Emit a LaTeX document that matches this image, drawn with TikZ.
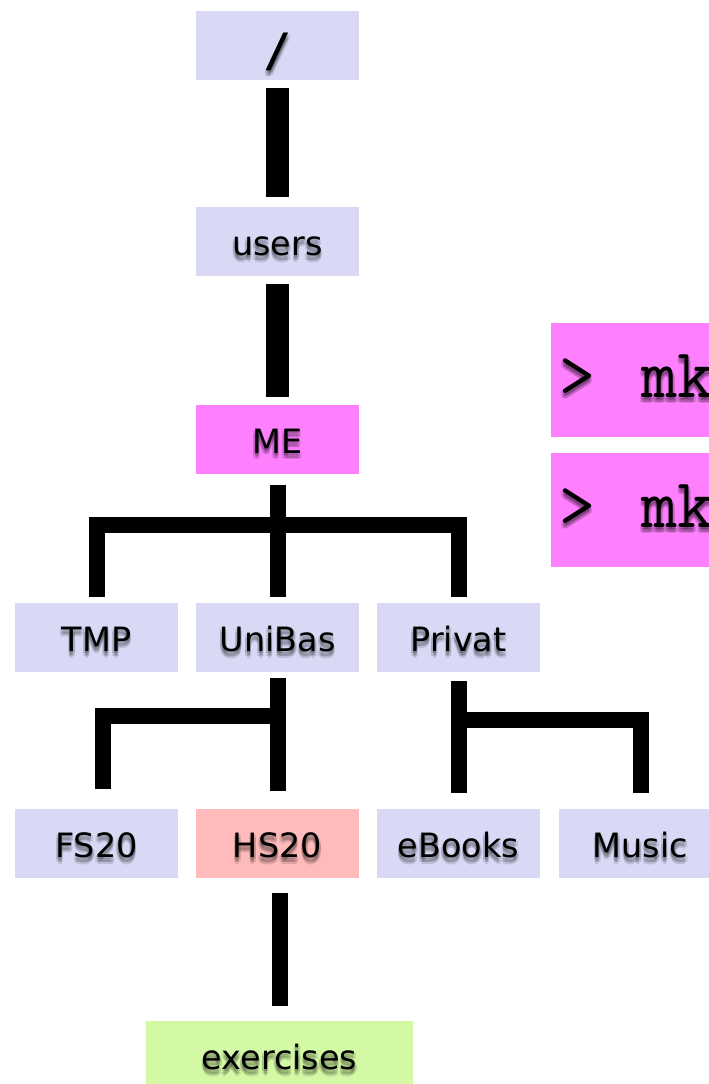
\documentclass[tikz,border=0pt]{standalone}
\usepackage{fontspec}
\setmainfont{DejaVu Sans}
\newfontfamily\slashfont{DejaVu Sans Mono}
\usetikzlibrary{calc}

\definecolor{lav}{RGB}{217,217,246}
\definecolor{pinkbox}{RGB}{255,128,255}
\definecolor{salmon}{RGB}{255,187,187}
\definecolor{lime}{RGB}{211,249,165}

\newcommand\cmdfont{\ttfamily\addfontfeatures{FakeBold=1.6}\fontsize{70}{76}\selectfont}

\tikzset{
  box/.style={fill=lav, minimum width=163pt, minimum height=69pt, inner sep=0pt,
    font=\fontsize{33.5}{40}\selectfont, text height=28pt, text depth=0pt},
  cmdbox/.style={fill=pinkbox, minimum height=114pt, minimum width=400pt,
    inner xsep=8pt, inner ysep=0pt, text width=384pt, align=left,
    font=\cmdfont, text height=44pt, text depth=10pt},
  conn/.style={line width=16pt, line cap=butt, line join=miter},
  trunk/.style={conn, line width=23pt},
}

% soft drop shadow: faint copies of a label, stacked slightly below it
\newcommand\textshadow[3]{%
  \foreach \sx/\sy in {-1.5/-2,1.5/-2,-1.5/-5,1.5/-5,0/-3.5,0/-6.5}
    \node[#2, fill=none, anchor=center, text opacity=0.12]
      at ([xshift=\sx pt,yshift=\sy pt]#1.center) {#3};%
}

\begin{document}
\begin{tikzpicture}[x=1pt,y=-1pt]
\useasboundingbox (0,0) rectangle (709,1084);
\clip (0,0) rectangle (709,1084);

% directory boxes
\node[box, font=\slashfont\bfseries\fontsize{46}{50}\selectfont, text height=41pt] (root) at (277.5,45.5) {/};
\node[box] (users) at (277.5,241.5) {users};
\node[box, fill=pinkbox] (me) at (277.5,439) {ME};
\node[box] (tmp) at (96.5,637.5) {TMP};
\node[box] (unibas) at (277.5,637.5) {UniBas};
\node[box] (privat) at (458.5,637.5) {Privat};
\node[box] (fs20) at (96.5,843.5) {FS20};
\node[box, fill=salmon] (hs20) at (277.5,843.5) {HS20};
\node[box] (ebooks) at (458.5,843.5) {eBooks};
\node[box] (music) at (640.5,843.5) {Music};
\node[box, fill=lime, minimum width=267pt] (exercises) at (279.5,1055.5) {exercises};

% command boxes
\node[cmdbox, anchor=west] (cmd1) at (551,380) {>\ \ mk};
\node[cmdbox, anchor=west] (cmd2) at (551,510) {>\ \ mk};

% shadows under the labels
\textshadow{root}{box, font=\slashfont\bfseries\fontsize{46}{50}\selectfont, text height=41pt}{/}
\textshadow{users}{box}{users}
\textshadow{me}{box}{ME}
\textshadow{tmp}{box}{TMP}
\textshadow{unibas}{box}{UniBas}
\textshadow{privat}{box}{Privat}
\textshadow{fs20}{box}{FS20}
\textshadow{hs20}{box}{HS20}
\textshadow{ebooks}{box}{eBooks}
\textshadow{music}{box}{Music}
\textshadow{exercises}{box, minimum width=267pt}{exercises}
\textshadow{cmd1}{cmdbox}{>\ \ mk}
\textshadow{cmd2}{cmdbox}{>\ \ mk}

% tree connectors
\draw[trunk] ([yshift=-8pt]root.south) -- ([yshift=10pt]users.north);
\draw[trunk] ([yshift=-8pt]users.south) -- ([yshift=7pt]me.north);

\coordinate (bar1) at (278,524.5);
\draw[conn] ([yshift=-11pt]me.south) -- ([yshift=6pt]unibas.north);
\draw[conn] ([yshift=6pt]tmp.north) |- (bar1) -| ([yshift=6pt]privat.north);

\coordinate (bar2) at (278,716);
\draw[conn] ([yshift=-6pt]unibas.south) -- ([yshift=18pt]hs20.north);
\draw[conn] ([xshift=6pt,yshift=20pt]fs20.north) |- (bar2);

\coordinate (bar3) at (458.5,720);
\draw[conn] ([yshift=-9pt]privat.south) -- ([yshift=16pt]ebooks.north);
\draw[conn] (bar3) -| ([yshift=16pt]music.north);

\coordinate (drop) at (exercises.north |- hs20.south);
\draw[conn] ([yshift=-15pt]drop) -- ([yshift=15pt]exercises.north);
\end{tikzpicture}
\end{document}
